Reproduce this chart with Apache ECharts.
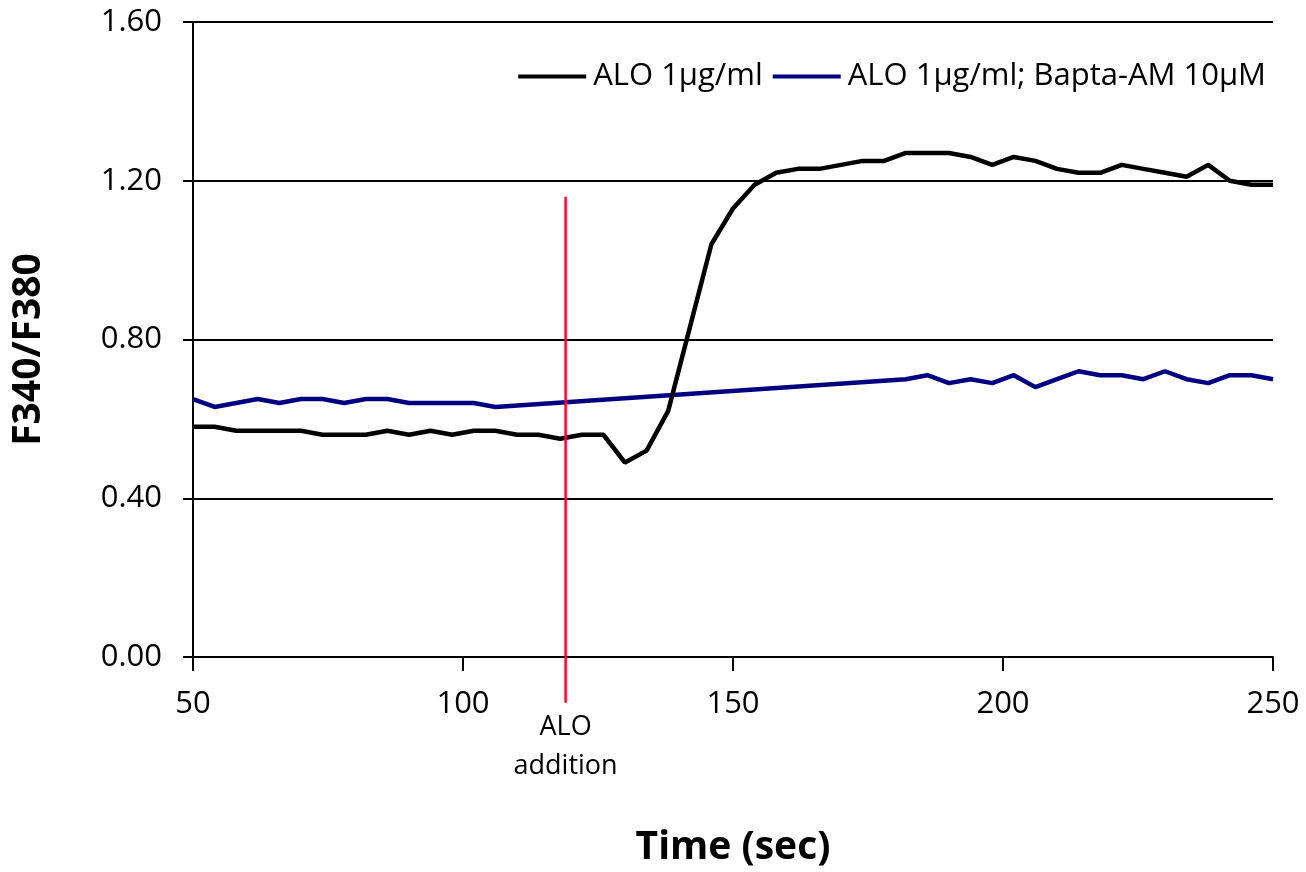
<!DOCTYPE html>
<html><head><meta charset="utf-8">
<script src="https://cdn.jsdelivr.net/npm/echarts@6/dist/echarts.min.js"></script>
<style>html,body{margin:0;padding:0;background:#fff;overflow:hidden}#c{width:1306px;height:872px}</style>
</head><body><div id="c"></div>
<script>
var times = [50,54,58,62,66,70,74,78,82,86,90,94,98,102,106,110,114,118,122,126,130,134,138,142,146,150,154,158,162,166,170,174,178,182,186,190,194,198,202,206,210,214,218,222,226,230,234,238,242,246,250];
var aloValues = [0.58,0.58,0.57,0.57,0.57,0.57,0.56,0.56,0.56,0.57,0.56,0.57,0.56,0.57,0.57,0.56,0.56,0.55,0.56,0.56,0.49,0.52,0.62,0.83,1.04,1.13,1.19,1.22,1.23,1.23,1.24,1.25,1.25,1.27,1.27,1.27,1.26,1.24,1.26,1.25,1.23,1.22,1.22,1.24,1.23,1.22,1.21,1.24,1.20,1.19,1.19];
var baptaValues = [0.65,0.63,0.64,0.65,0.64,0.65,0.65,0.64,0.65,0.65,0.64,0.64,0.64,0.64,0.63,null,null,null,null,null,null,null,null,null,null,null,null,null,null,null,null,null,null,0.70,0.71,0.69,0.70,0.69,0.71,0.68,0.70,0.72,0.71,0.71,0.70,0.72,0.70,0.69,0.71,0.71,0.70];
var seriesNames = ['ALO 1\u03bcg/ml', 'ALO 1\u03bcg/ml; Bapta-AM 10\u03bcM'];
var additionTime = 119;
var additionTop = 1.16;
var additionBottom = -0.115;
var additionLabel = 'ALO\naddition';

function pairs(v){ return times.map(function(t,i){ return [t, v[i]]; }); }
var FONT = 'Open Sans';
var chart = echarts.init(document.getElementById('c'));
chart.setOption({
  animation: false,
  textStyle: {fontFamily: FONT},
  grid: {left: 193, right: 33, top: 22, bottom: 209},
  legend: {
    right: 35, top: 56, itemWidth: 68, itemHeight: 4, itemGap: 10, icon: 'rect',
    textStyle: {fontFamily: FONT, fontSize: 31, color: '#000', padding: [0,0,0,2]},
    data: seriesNames
  },
  xAxis: {
    type: 'value', min: 50, max: 250, interval: 50,
    name: 'Time (sec)', nameLocation: 'middle', nameGap: 171,
    nameTextStyle: {fontFamily: FONT, fontSize: 39, fontWeight: 'bold', color: '#000'},
    axisLine: {lineStyle: {color: '#000', width: 2}},
    axisTick: {show: true, length: 14, lineStyle: {color: '#000', width: 2}},
    axisLabel: {fontSize: 31, color: '#000', margin: 32, fontFamily: FONT},
    splitLine: {show: false}
  },
  yAxis: {
    type: 'value', min: 0, max: 1.6, interval: 0.4,
    name: 'F340/F380', nameLocation: 'middle', nameGap: 145,
    nameTextStyle: {fontFamily: FONT, fontSize: 39, fontWeight: 'bold', color: '#000', padding: [0, 20, 0, 0]},
    axisLine: {show: true, lineStyle: {color: '#000', width: 2}},
    axisTick: {show: true, length: 10, lineStyle: {color: '#000', width: 2}},
    axisLabel: {fontSize: 31, color: '#000', margin: 31, fontFamily: FONT,
      formatter: function(v){ return v.toFixed(2); }},
    splitLine: {show: true, lineStyle: {color: '#000', width: 2}}
  },
  series: [
    {
      name: seriesNames[0], type: 'line', data: pairs(aloValues),
      symbol: 'none', lineStyle: {color: '#000', width: 4.5}, itemStyle: {color: '#000'}, z: 3
    },
    {
      name: seriesNames[1], type: 'line', data: pairs(baptaValues),
      connectNulls: true, symbol: 'none', lineStyle: {color: '#000080', width: 4.5},
      itemStyle: {color: '#000080'}, z: 2
    },
    {
      name: 'addition', type: 'line', clip: false, silent: true, z: 4,
      symbol: 'circle', symbolSize: 1, showSymbol: true,
      lineStyle: {color: '#ff0038', width: 2.5},
      itemStyle: {color: 'rgba(0,0,0,0)'},
      data: [
        {value: [additionTime, additionTop]},
        {value: [additionTime, additionBottom],
         label: {show: true, position: 'bottom', distance: 5, formatter: additionLabel,
           fontFamily: FONT, fontSize: 27, lineHeight: 39, color: '#000'}}
      ]
    }
  ]
});
</script></body></html>
